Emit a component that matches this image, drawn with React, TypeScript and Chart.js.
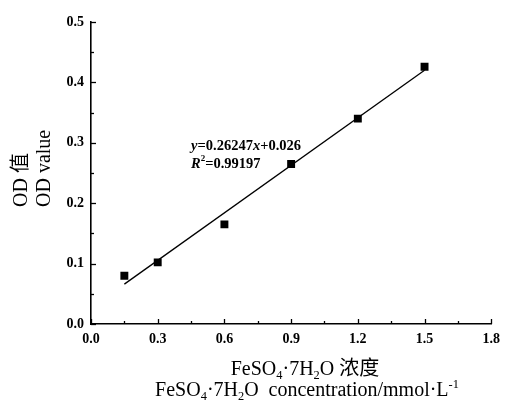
import React, { useEffect, useRef } from "react";
import { Chart, registerables } from "chart.js";

Chart.register(...registerables);

// ---- data ----
const concentration = [0.15, 0.3, 0.6, 0.9, 1.2, 1.5];
const odValues = [0.08, 0.102, 0.165, 0.265, 0.34, 0.426];
const fitX = [0.15, 1.5];
const fitY = [0.066, 0.42];
const xTicks = [0, 0.3, 0.6, 0.9, 1.2, 1.5, 1.8];
const yTicks = [0, 0.1, 0.2, 0.3, 0.4, 0.5];
const yTitleLines = ["OD 值", "OD value"];
const annotationAnchor = [0.45, 0.295];

type Seg = { t: string; style?: "sub" | "sup"; italic?: boolean };

const xTitleLine1: Seg[] = [
  { t: "FeSO" }, { t: "4", style: "sub" }, { t: "·7H" }, { t: "2", style: "sub" }, { t: "O 浓度" },
];
const xTitleLine2: Seg[] = [
  { t: "FeSO" }, { t: "4", style: "sub" }, { t: "·7H" }, { t: "2", style: "sub" },
  { t: "O  concentration/mmol·L" }, { t: "-1", style: "sup" },
];
const equationSegs: Seg[] = [
  { t: "y", italic: true }, { t: "=0.26247" }, { t: "x", italic: true }, { t: "+0.026" },
];
const r2Segs: Seg[] = [
  { t: "R", italic: true }, { t: "2", style: "sup" }, { t: "=0.99197" },
];

const SERIF = '"Liberation Serif", "DejaVu Serif", "Noto Sans CJK SC", serif';

function segFont(seg: Seg, size: number, bold: boolean) {
  const s = seg.style ? size * 0.62 : size;
  return `${seg.italic ? "italic " : ""}${bold ? "bold " : ""}${s}px ${SERIF}`;
}

function drawSegs(
  ctx: CanvasRenderingContext2D,
  segs: Seg[],
  x: number,
  y: number,
  size: number,
  bold: boolean,
  align: "left" | "center"
) {
  let total = 0;
  const widths = segs.map((sg) => {
    ctx.font = segFont(sg, size, bold);
    const w = ctx.measureText(sg.t).width;
    total += w;
    return w;
  });
  let cx = align === "center" ? x - total / 2 : x;
  ctx.textAlign = "left";
  ctx.textBaseline = "middle";
  segs.forEach((sg, i) => {
    ctx.font = segFont(sg, size, bold);
    let dy = 0;
    if (sg.style === "sub") dy = size * 0.28;
    if (sg.style === "sup") dy = -size * 0.33;
    ctx.fillText(sg.t, cx, y + dy);
    cx += widths[i];
  });
}

const decorPlugin = {
  id: "decor",
  afterDraw(chart: any) {
    const ctx: CanvasRenderingContext2D = chart.ctx;
    const ax = chart.scales.x;
    const ay = chart.scales.y;
    const area = chart.chartArea;
    ctx.save();
    ctx.strokeStyle = "#000";
    ctx.fillStyle = "#000";
    ctx.lineWidth = 1.3;
    // inward ticks
    const drawX = (v: number, len: number) => {
      const px = Math.round(ax.getPixelForValue(v)) + 0.5;
      ctx.beginPath();
      ctx.moveTo(px, area.bottom);
      ctx.lineTo(px, area.bottom - len);
      ctx.stroke();
    };
    const drawY = (v: number, len: number) => {
      const py = Math.round(ay.getPixelForValue(v)) + 0.5;
      ctx.beginPath();
      ctx.moveTo(area.left, py);
      ctx.lineTo(area.left + len, py);
      ctx.stroke();
    };
    xTicks.forEach((v, i) => {
      drawX(v, 5);
      if (i < xTicks.length - 1) drawX((v + xTicks[i + 1]) / 2, 3);
    });
    yTicks.forEach((v, i) => {
      drawY(v, 5);
      if (i < yTicks.length - 1) drawY((v + yTicks[i + 1]) / 2, 3);
    });

    // equation annotation
    const axp = ax.getPixelForValue(annotationAnchor[0]);
    const ayp = ay.getPixelForValue(annotationAnchor[1]);
    drawSegs(ctx, equationSegs, axp, ayp, 14.5, true, "left");
    drawSegs(ctx, r2Segs, axp, ayp + 18, 14.5, true, "left");

    // x title
    drawSegs(ctx, xTitleLine1, 305, 370, 20, false, "center");
    drawSegs(ctx, xTitleLine2, 307, 391, 20, false, "center");

    // y title (rotated, both lines start at same point)
    ctx.translate(0, 207);
    ctx.rotate(-Math.PI / 2);
    ctx.font = `20px ${SERIF}`;
    ctx.textAlign = "left";
    ctx.textBaseline = "middle";
    ctx.fillText(yTitleLines[0], 0, 22);
    ctx.fillText(yTitleLines[1], 0, 45);
    ctx.restore();
  },
};

export default function App() {
  const ref = useRef<HTMLCanvasElement>(null);
  useEffect(() => {
    document.body.style.margin = "0";
    document.body.style.background = "#fff";
    const chart = new Chart(ref.current as HTMLCanvasElement, {
      type: "scatter",
      data: {
        datasets: [
          {
            type: "line",
            label: "fit",
            data: fitX.map((x, i) => ({ x, y: fitY[i] })),
            borderColor: "#000",
            borderWidth: 1.3,
            pointRadius: 0,
            fill: false,
          } as any,
          {
            label: "OD",
            data: concentration.map((x, i) => ({ x, y: odValues[i] })),
            pointStyle: "rect",
            pointRadius: 5.6,
            backgroundColor: "#000",
            borderColor: "#000",
            borderWidth: 0,
          },
        ],
      },
      options: {
        responsive: false,
        animation: false,
        layout: { padding: { top: 22, right: 10, left: 0, bottom: 0 } },
        plugins: { legend: { display: false }, tooltip: { enabled: false } },
        scales: {
          x: {
            type: "linear",
            min: 0,
            max: 1.8,
            grid: { display: false, drawTicks: false },
            border: { display: true, color: "#000", width: 1.6 },
            afterBuildTicks: (s: any) => {
              s.ticks = xTicks.map((v) => ({ value: v }));
            },
            afterFit: (s: any) => {
              s.height = 80;
            },
            ticks: {
              padding: 7,
              color: "#000",
              font: { family: SERIF, size: 14, weight: "bold" },
              callback: (v: any) => Number(v).toFixed(1),
            },
          },
          y: {
            type: "linear",
            min: 0,
            max: 0.5,
            grid: { display: false, drawTicks: false },
            border: { display: true, color: "#000", width: 1.6 },
            afterBuildTicks: (s: any) => {
              s.ticks = yTicks.map((v) => ({ value: v }));
            },
            afterFit: (s: any) => {
              s.width = 91;
            },
            ticks: {
              padding: 7,
              color: "#000",
              font: { family: SERIF, size: 14, weight: "bold" },
              callback: (v: any) => Number(v).toFixed(1),
            },
          },
        },
      },
      plugins: [decorPlugin],
    });
    return () => chart.destroy();
  }, []);
  return <canvas ref={ref} width={507} height={404} style={{ display: "block" }} />;
}
